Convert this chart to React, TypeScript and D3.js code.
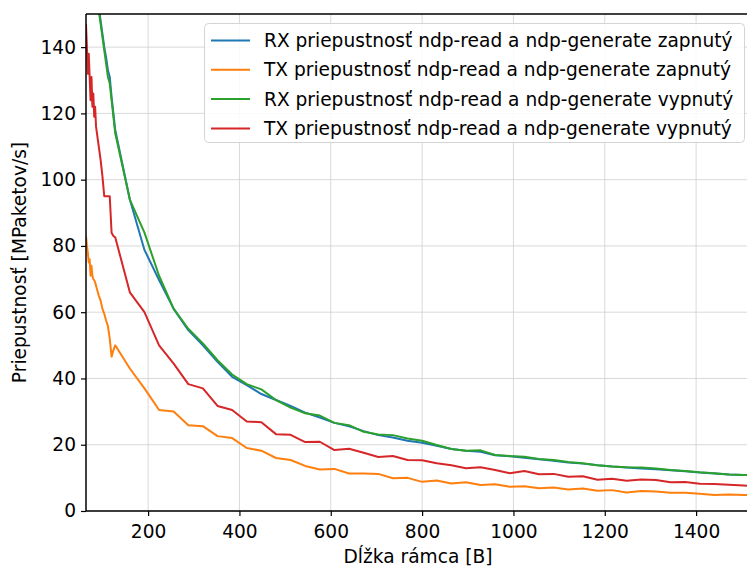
import React, { useEffect, useRef } from 'react';
import * as d3 from 'd3';

// frame sizes [B] sampled in the measurement
const frameSizes = [
  64, 66, 68, 70, 72, 74, 76, 78, 80, 82, 84, 86, 88, 92, 96, 100, 104, 108, 112, 116, 120, 124, 128,
  160, 192, 224, 256, 288, 320, 352, 384, 416, 448, 480, 512, 544, 576, 608, 640, 672, 704, 736,
  768, 800, 832, 864, 896, 928, 960, 992, 1024, 1056, 1088, 1120, 1152, 1184, 1216, 1248, 1280,
  1312, 1344, 1376, 1408, 1440, 1472, 1504, 1518,
];

const rxOn = [
  181, 179, 177, 175, 172, 170, 168, 166, 164, 162, 160, 158, 156, 152, 148, 144, 140, 137, 133, 131, 125, 120, 115,
  94, 78.8, 69.7, 61, 54.6, 50, 45, 40.5, 38, 35.3, 33.5, 31.7, 29.7, 28.2, 26.6, 25.6, 24.1, 22.9, 22.2,
  21.2, 20.6, 19.7, 18.7, 18.2, 17.9, 16.8, 16.5, 16.1, 15.6, 15.2, 14.6, 14.3, 13.8, 13.4, 13.1, 12.8,
  12.6, 12.3, 12.0, 11.6, 11.3, 11.0, 10.9, 10.8,
];

const txOn = [
  83, 80, 78, 75, 76, 71, 74, 71, 70, 69.7, 69, 68, 67, 65, 63.5, 61, 59.5, 57.5, 55.8, 52, 46.6, 48.5, 50,
  43, 37, 30.5, 30, 25.9, 25.6, 22.6, 22, 19, 18.2, 16, 15.4, 13.6, 12.5, 12.7, 11.3, 11.3, 11.2, 9.9,
  10.0, 8.8, 9.2, 8.3, 8.7, 7.85, 8.05, 7.3, 7.5, 6.9, 7.1, 6.5, 6.8, 6.1, 6.3, 5.6, 6.0,
  5.9, 5.5, 5.5, 5.2, 4.8, 5.0, 4.8, 4.8,
];

const rxOff = [
  180, 178, 176, 174, 171, 169, 167, 165, 163, 161, 159, 157, 155, 151, 147, 143, 139, 135, 131, 129, 124, 119, 114,
  94, 84, 71, 61, 55, 50.6, 45.5, 41.2, 38.3, 36.7, 33.5, 31.2, 29.5, 28.8, 26.6, 25.9, 23.9, 23.1, 22.9,
  21.9, 21.2, 19.9, 18.7, 18.2, 18.3, 16.9, 16.6, 16.4, 15.7, 15.4, 14.8, 14.4, 13.8, 13.4, 13.2, 13.1,
  12.8, 12.4, 12.1, 11.7, 11.4, 11.0, 10.9, 10.9,
];

const txOff = [
  147, 140, 132, 138, 131, 124, 131, 122, 126, 119, 122, 116, 114, 110, 106, 101, 95, 95, 95, 95, 84, 83, 82.6,
  66, 60, 50, 44.5, 38.3, 37, 31.7, 30.5, 27, 26.8, 23.2, 23, 20.8, 20.9, 18.4, 18.8, 17.6, 16.3, 16.6,
  15.4, 15.3, 14.4, 13.8, 12.9, 13.2, 12.4, 11.4, 12.1, 11.1, 11.2, 10.35, 10.5, 9.45, 9.75, 9.1, 9.5,
  9.35, 8.65, 8.75, 8.25, 8.15, 7.95, 7.7, 7.55,
];

const seriesNames = [
  'RX priepustnosť ndp-read a ndp-generate zapnutý',
  'TX priepustnosť ndp-read a ndp-generate zapnutý',
  'RX priepustnosť ndp-read a ndp-generate vypnutý',
  'TX priepustnosť ndp-read a ndp-generate vypnutý',
];
const seriesValues = [rxOn, txOn, rxOff, txOff];
const seriesColors = ['#1f77b4', '#ff7f0e', '#2ca02c', '#d62728'];

const xTicks = [200, 400, 600, 800, 1000, 1200, 1400];
const yTicks = [0, 20, 40, 60, 80, 100, 120, 140];

export default function App() {
  const ref = useRef<SVGSVGElement>(null);

  useEffect(() => {
    const width = 747;
    const height = 568;
    const left = 86;
    const top = 14;
    const bottom = 511;
    const right = 750;
    const font = 'DejaVu Sans, sans-serif';
    const fontSize = '18.6px';

    const svg = d3.select(ref.current);
    svg.selectAll('*').remove();
    svg.attr('width', width).attr('height', height);

    const x = d3.scaleLinear().domain([64, 1518]).range([left, right]);
    const y = d3.scaleLinear().domain([0, 150]).range([bottom, top]);

    svg.append('rect').attr('width', width).attr('height', height).attr('fill', '#fff');

    svg
      .append('defs')
      .append('clipPath')
      .attr('id', 'plot-clip')
      .append('rect')
      .attr('x', left)
      .attr('y', top)
      .attr('width', right - left)
      .attr('height', bottom - top);

    // grid
    const grid = svg.append('g').attr('stroke', '#cfcfcf').attr('stroke-width', 0.8);
    grid
      .selectAll('line.gx')
      .data(xTicks)
      .enter()
      .append('line')
      .attr('x1', (d) => x(d))
      .attr('x2', (d) => x(d))
      .attr('y1', top)
      .attr('y2', bottom);
    grid
      .selectAll('line.gy')
      .data(yTicks)
      .enter()
      .append('line')
      .attr('x1', left)
      .attr('x2', right)
      .attr('y1', (d) => y(d))
      .attr('y2', (d) => y(d));

    // lines
    const line = d3
      .line<number>()
      .x((d, i) => x(frameSizes[i]))
      .y((d) => y(d));

    const plot = svg.append('g').attr('clip-path', 'url(#plot-clip)');
    seriesValues.forEach((vals, i) => {
      plot
        .append('path')
        .datum(vals)
        .attr('fill', 'none')
        .attr('stroke', seriesColors[i])
        .attr('stroke-width', 2)
        .attr('stroke-linejoin', 'round')
        .attr('d', line);
    });

    // axes
    const xAxis = d3.axisBottom(x).tickValues(xTicks).tickSize(5).tickPadding(9).tickFormat(d3.format('d'));
    const yAxis = d3.axisLeft(y).tickValues(yTicks).tickSize(5).tickPadding(5).tickFormat(d3.format('d'));

    const gx = svg.append('g').attr('transform', 'translate(0,' + bottom + ')').call(xAxis);
    const gy = svg.append('g').attr('transform', 'translate(' + left + ',0)').call(yAxis);
    [gx, gy].forEach((g) => {
      g.select('.domain').remove();
      g.selectAll('line').attr('stroke', '#000').attr('stroke-width', 1.2);
      g.selectAll('text').attr('fill', '#000').style('font-family', font).style('font-size', fontSize);
    });

    // spines
    const spines = svg.append('g').attr('stroke', '#000').attr('stroke-width', 1.5).attr('fill', 'none');
    spines.append('line').attr('x1', left).attr('x2', left).attr('y1', top).attr('y2', bottom);
    spines.append('line').attr('x1', left).attr('x2', right).attr('y1', bottom).attr('y2', bottom);
    spines.append('line').attr('x1', left).attr('x2', right).attr('y1', top).attr('y2', top);

    // axis titles
    svg
      .append('text')
      .attr('x', (left + right) / 2)
      .attr('y', 563)
      .style('font-family', font)
      .style('font-size', fontSize)
      .style('text-anchor', 'middle')
      .text('Dĺžka rámca [B]');

    svg
      .append('text')
      .attr('transform', 'rotate(-90)')
      .attr('x', -(top + bottom) / 2)
      .attr('y', 26)
      .style('font-family', font)
      .style('font-size', fontSize)
      .style('text-anchor', 'middle')
      .text('Priepustnosť [MPaketov/s]');

    // legend
    const legend = svg.append('g');
    legend
      .append('rect')
      .attr('x', 204.5)
      .attr('y', 23.5)
      .attr('width', 540)
      .attr('height', 119)
      .attr('rx', 4)
      .attr('fill', 'rgba(255,255,255,0.85)')
      .attr('stroke', '#d4d4d4');
    seriesNames.forEach((name, i) => {
      const cy = 40.5 + i * 29.3;
      legend
        .append('line')
        .attr('x1', 211)
        .attr('x2', 250)
        .attr('y1', cy)
        .attr('y2', cy)
        .attr('stroke', seriesColors[i])
        .attr('stroke-width', 2);
      legend
        .append('text')
        .attr('x', 264)
        .attr('y', cy)
        .attr('dy', '0.35em')
        .style('font-family', font)
        .style('font-size', fontSize)
        .text(name);
    });
  }, []);

  return <svg ref={ref} style={{ position: 'absolute', left: 0, top: 0 }} />;
}
